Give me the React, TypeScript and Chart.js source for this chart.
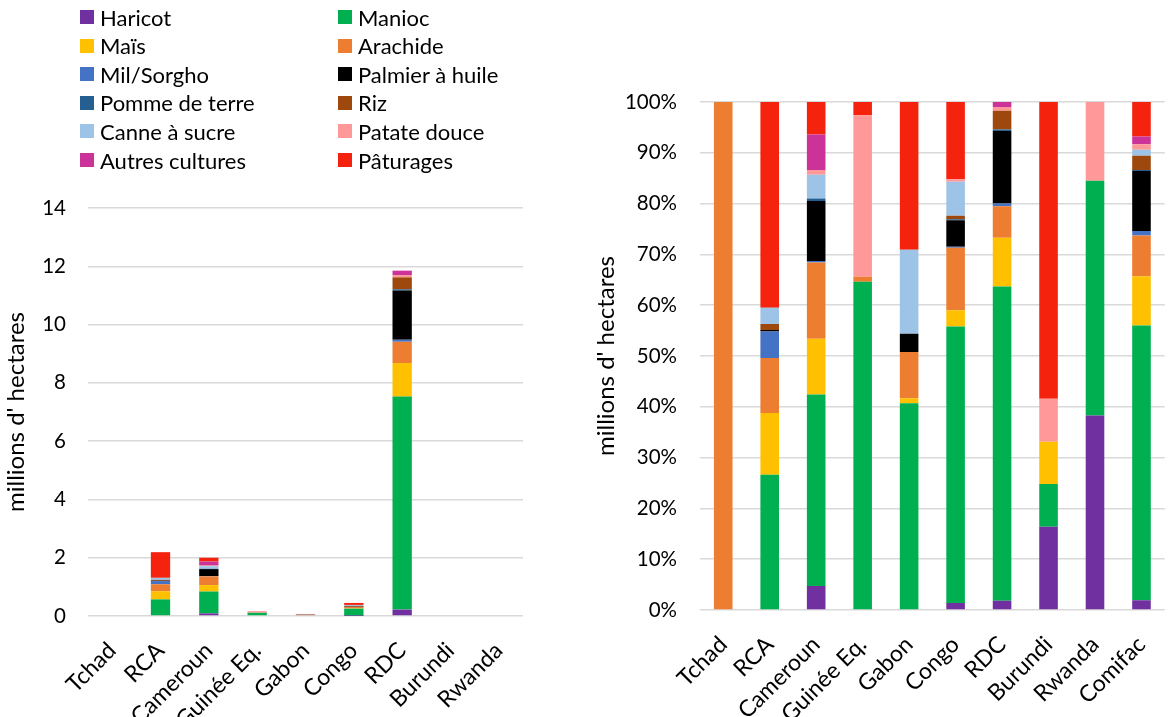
import React, { useEffect, useRef } from "react";
import { Chart, registerables } from "chart.js";

Chart.register(...registerables);

const crops = [
  "Haricot", "Manioc", "Maïs", "Arachide", "Mil/Sorgho", "Palmier à huile",
  "Pomme de terre", "Riz", "Canne à sucre", "Patate douce", "Autres cultures", "Pâturages",
];
const cropColors = [
  "#7030A0", "#00B050", "#FFC000", "#ED7D31", "#4472C4", "#000000",
  "#255E91", "#9E480E", "#9DC3E6", "#FF9999", "#CC3399", "#F5230D",
];

const countriesLeft = ["Tchad", "RCA", "Cameroun", "Guinée Eq.", "Gabon", "Congo", "RDC", "Burundi", "Rwanda"];
const countriesRight = ["Tchad", "RCA", "Cameroun", "Guinée Eq.", "Gabon", "Congo", "RDC", "Burundi", "Rwanda", "Comifac"];

// Millions of hectares, per crop, one value per country (left chart)
const haricotMha = [0, 0, 0.09, 0, 0, 0.006, 0.22, 0, 0];
const maniocMha = [0, 0.57, 0.75, 0.11, 0.028, 0.245, 7.31, 0, 0];
const maisMha = [0, 0.28, 0.22, 0, 0.001, 0.014, 1.15, 0, 0];
const arachideMha = [0, 0.24, 0.3, 0.002, 0.006, 0.055, 0.73, 0, 0];
const milMha = [0, 0.11, 0.01, 0, 0, 0.001, 0.07, 0, 0];
const palmierMha = [0, 0.01, 0.24, 0, 0.003, 0.023, 1.69, 0, 0];
const pommeMha = [0, 0, 0.01, 0, 0, 0.001, 0.04, 0, 0];
const rizMha = [0, 0.03, 0, 0, 0, 0.003, 0.41, 0, 0];
const canneMha = [0, 0.07, 0.09, 0, 0.012, 0.03, 0, 0, 0];
const patateMha = [0, 0, 0.02, 0.054, 0, 0.002, 0.08, 0, 0];
const autresMha = [0, 0, 0.14, 0, 0, 0, 0.15, 0, 0];
const paturagesMha = [0, 0.88, 0.13, 0.004, 0.02, 0.068, 0, 0, 0];

// Percent shares, per crop, one value per country (right chart)
const haricotPct = [0, 0, 4.7, 0, 0, 1.4, 1.8, 16.4, 38.3, 1.9];
const maniocPct = [0, 26.6, 37.7, 64.6, 40.7, 54.4, 61.9, 8.4, 46.2, 54.1];
const maisPct = [0, 12.2, 11.0, 0, 1.0, 3.2, 9.6, 8.3, 0, 9.7];
const arachidePct = [100, 10.8, 15.0, 1.0, 9.1, 12.3, 6.2, 0, 0, 8.0];
const milPct = [0, 5.2, 0.3, 0, 0, 0.2, 0.5, 0, 0, 0.9];
const palmierPct = [0, 0.3, 11.8, 0, 3.6, 5.2, 14.3, 0, 0, 11.8];
const pommePct = [0, 0, 0.5, 0, 0, 0.2, 0.3, 0, 0, 0.2];
const rizPct = [0, 1.2, 0, 0, 0, 0.7, 3.7, 0, 0, 2.8];
const cannePct = [0, 3.2, 4.7, 0, 16.5, 6.7, 0, 0, 0, 1.2];
const patatePct = [0, 0, 0.9, 31.8, 0, 0.5, 0.7, 8.5, 15.5, 1.1];
const autresPct = [0, 0, 7.0, 0, 0, 0, 1.0, 0, 0, 1.5];
const paturagesPct = [0, 40.5, 6.4, 2.6, 29.1, 15.2, 0, 58.4, 0, 6.8];

const leftSeries = [haricotMha, maniocMha, maisMha, arachideMha, milMha, palmierMha, pommeMha, rizMha, canneMha, patateMha, autresMha, paturagesMha];
const rightSeries = [haricotPct, maniocPct, maisPct, arachidePct, milPct, palmierPct, pommePct, rizPct, cannePct, patatePct, autresPct, paturagesPct];

const leftTicks = [0, 2, 4, 6, 8, 10, 12, 14];
const yTitle = "millions d' hectares";

const FONT = "Lato, 'Open Sans', sans-serif";
const GRID = "#d9d9d9";

function makeDatasets(series: number[][]) {
  return series.map((data, i) => ({
    label: crops[i],
    data,
    backgroundColor: cropColors[i],
    borderWidth: 0,
    stack: "s",
    categoryPercentage: 1,
    barPercentage: 0.4,
  }));
}

function baseOptions(opts: {
  yWidth: number; xHeight: number; padTop: number; padRight: number;
  max: number; step: number; pct: boolean; titlePad: number; tickPad: number;
}) {
  return {
    animation: false,
    responsive: false,
    maintainAspectRatio: false,
    layout: { padding: { top: opts.padTop, right: opts.padRight, left: 0, bottom: 0 } },
    plugins: { legend: { display: false }, tooltip: { enabled: false } },
    scales: {
      x: {
        stacked: true,
        grid: { display: false },
        border: { display: false },
        ticks: {
          color: "#000",
          font: { family: FONT, size: 23 },
          minRotation: 45,
          maxRotation: 45,
          padding: 13,
          autoSkip: false,
        },
        afterFit: (s: any) => { s.height = opts.xHeight; },
      },
      y: {
        stacked: true,
        min: 0,
        max: opts.max,
        grid: { color: GRID, lineWidth: 1.5, drawTicks: false },
        border: { display: false },
        ticks: {
          stepSize: opts.step,
          color: "#000",
          font: { family: FONT, size: 20.5 },
          padding: opts.tickPad,
          callback: (v: any) => (opts.pct ? v + "%" : String(v)),
        },
        title: {
          display: true,
          text: yTitle,
          color: "#000",
          font: { family: FONT, size: 24 },
          padding: { top: opts.titlePad, bottom: 0 },
        },
        afterFit: (s: any) => { s.width = opts.yWidth; },
      },
    },
  } as any;
}

function Legend() {
  const rows = [];
  for (let r = 0; r < 6; r++) {
    for (let c = 0; c < 2; c++) {
      const i = r * 2 + c;
      rows.push(
        <div
          key={i}
          style={{
            position: "absolute",
            left: c === 0 ? 80 : 338,
            top: 4 + r * 28.6,
            height: 26,
            display: "flex",
            alignItems: "center",
            fontFamily: FONT,
            fontSize: 22,
            color: "#000",
            whiteSpace: "nowrap",
          }}
        >
          <span style={{ display: "inline-block", width: 14, height: 14, background: cropColors[i], marginRight: 6 }} />
          <span>{crops[i]}</span>
        </div>
      );
    }
  }
  return <>{rows}</>;
}

export default function App() {
  const leftRef = useRef<HTMLCanvasElement>(null);
  const rightRef = useRef<HTMLCanvasElement>(null);

  useEffect(() => {
    const left = new Chart(leftRef.current!, {
      type: "bar",
      data: { labels: countriesLeft, datasets: makeDatasets(leftSeries) as any },
      options: baseOptions({ yWidth: 88, xHeight: 101, padTop: 208, padRight: 17, max: leftTicks[leftTicks.length - 1], step: 2, pct: false, titlePad: 2, tickPad: 22 }),
    });
    const right = new Chart(rightRef.current!, {
      type: "bar",
      data: { labels: countriesRight, datasets: makeDatasets(rightSeries) as any },
      options: baseOptions({ yWidth: 160, xHeight: 107, padTop: 102, padRight: 0, max: 100, step: 10, pct: true, titlePad: 52, tickPad: 23 }),
    });
    return () => { left.destroy(); right.destroy(); };
  }, []);

  return (
    <div style={{ position: "absolute", left: 0, top: 0, width: 1172, height: 717, background: "#fff", overflow: "hidden" }}>
      <canvas ref={leftRef} width={540} height={717} style={{ position: "absolute", left: 0, top: 0, width: 540, height: 717 }} />
      <canvas ref={rightRef} width={634} height={717} style={{ position: "absolute", left: 540, top: 0, width: 634, height: 717 }} />
      <Legend />
    </div>
  );
}
